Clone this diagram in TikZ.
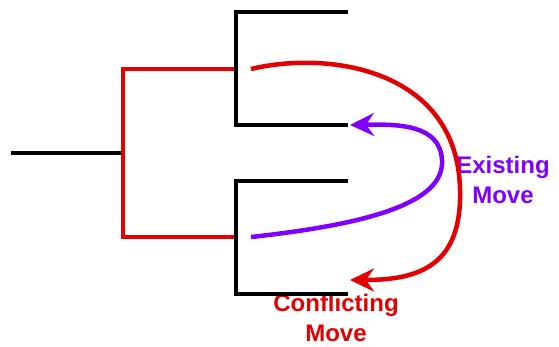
\documentclass[tikz,border=0pt]{standalone}
\usepackage{fontspec}
\setmainfont{Liberation Sans}
\usepackage{tikz}
\usetikzlibrary{arrows.meta}
\definecolor{movered}{RGB}{226,0,0}
\definecolor{movepurple}{RGB}{128,0,255}

\begin{document}
\begin{tikzpicture}[x=1pt,y=-1pt,line width=4.5pt,
  branch/.style={draw=black},
  hotbranch/.style={draw=movered},
  movearrow/.style={-{Stealth[length=24pt,width=23pt,inset=8pt]}},
  movelabel/.style={align=center,font=\bfseries\fontsize{24}{30}\selectfont}]
  \useasboundingbox (0,0) rectangle (559,346);
  \coordinate (R) at (11,153);
  \coordinate (S) at (123,153);
  \coordinate (S1) at (123,69);
  \coordinate (S2) at (123,237);
  \coordinate (A) at (236,69);
  \coordinate (A1) at (236,12);
  \coordinate (A2) at (236,125);
  \coordinate (A1') at (348,12);
  \coordinate (A2') at (348,125);
  \coordinate (B) at (236,237);
  \coordinate (B1) at (236,181);
  \coordinate (B2) at (236,294);
  \coordinate (B1') at (348,181);
  \coordinate (B2') at (348,294);
  \coordinate (P) at (251,69);
  \coordinate (Q) at (251,237);
  \coordinate (P') at (350,280);
  \coordinate (Q') at (350,125);
  \node[movelabel,text=movepurple] (existing) at (503,180) {Existing\\Move};
  \node[movelabel,text=movered] (conflicting) at (336,318) {Conflicting\\Move};
  \draw[branch] (R) -- (S);
  \draw[hotbranch] (A) -- (S1) -- (S2) -- (B);
  \draw[branch] (A1') -- (A1) -- (A2) -- (A2');
  \draw[branch] (B1') -- (B1) -- (B2) -- (B2');
  \draw[movearrow,movered] (P) .. controls (330,50) and (458,70) .. (460,190)
    .. controls (462,265) and (420,280) .. (P');
  \draw[movearrow,movepurple] (Q) .. controls (360,225) and (445,205) .. (442,160)
    .. controls (440,125) and (400,124) .. (Q');
\end{tikzpicture}
\end{document}
